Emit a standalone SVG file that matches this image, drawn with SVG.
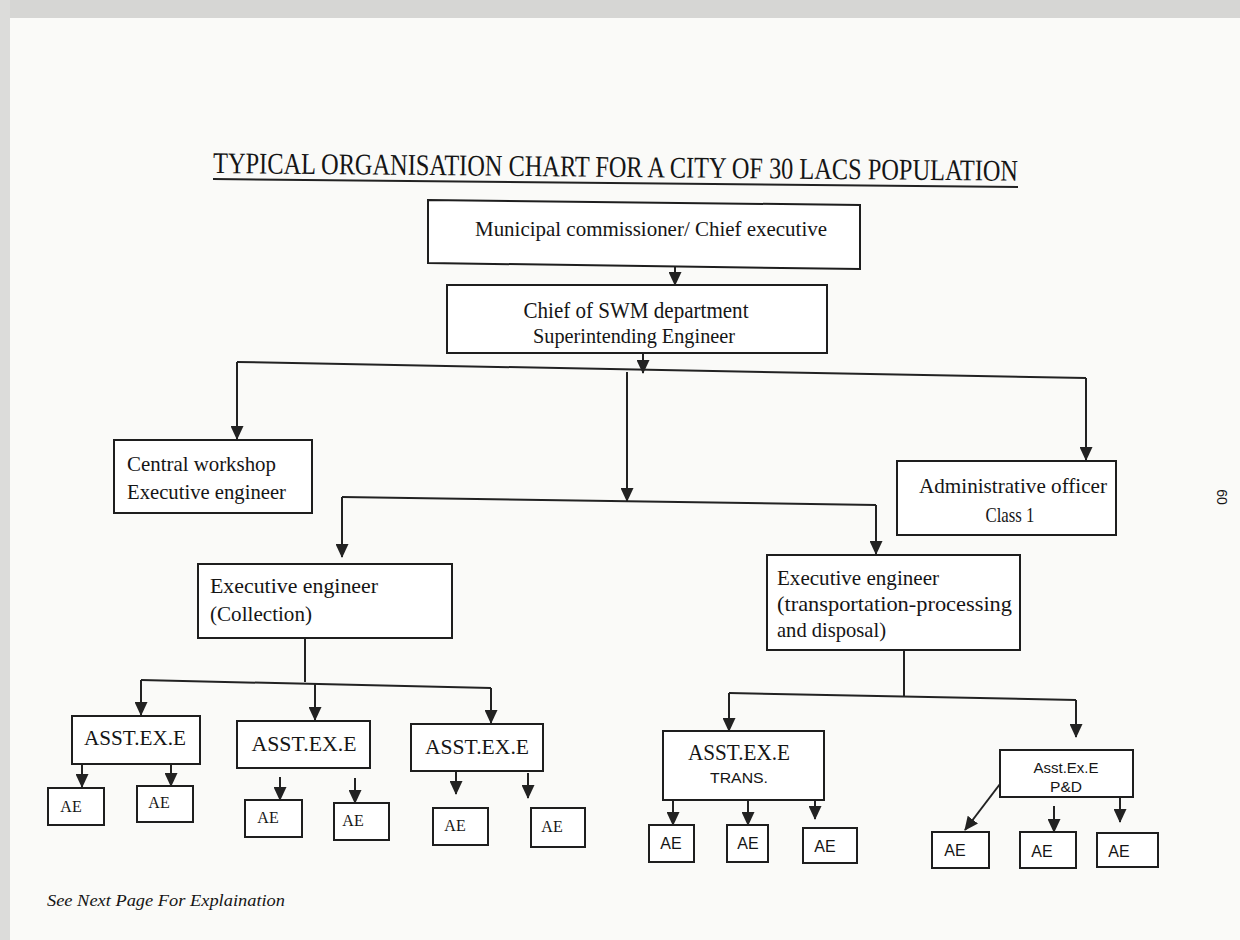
<svg xmlns="http://www.w3.org/2000/svg" width="1240" height="940" viewBox="0 0 1240 940">
<defs>
<marker id="ah" viewBox="0 0 14 13" refX="13" refY="6.5" markerWidth="14" markerHeight="13" markerUnits="userSpaceOnUse" orient="auto">
<path d="M0,0 L14,6.5 L0,13 z" fill="#222"/>
</marker>
<style>
.bx{fill:#fff;stroke:#1e1e1e;stroke-width:2}
.ln{fill:none;stroke:#222;stroke-width:2}
.ar{fill:none;stroke:#222;stroke-width:2;marker-end:url(#ah)}
.t{font-family:"Liberation Serif","Times New Roman",serif;fill:#151515}
.s{font-family:"Liberation Sans",Arial,sans-serif;fill:#151515}
</style>
</defs>
<rect width="1240" height="940" fill="#fafaf8"/>
<rect x="0" y="0" width="1240" height="18" fill="#d6d6d4"/>
<rect x="0" y="0" width="10" height="940" fill="#dcdcda"/>

<g id="title">
<text class="t" x="213" y="173" font-size="30" textLength="805" lengthAdjust="spacingAndGlyphs" transform="rotate(0.55 213 173)">TYPICAL ORGANISATION CHART FOR A CITY OF 30 LACS POPULATION</text>
<line class="ln" x1="213" y1="179" x2="1018" y2="187" stroke-width="1.8"/>
</g>

<g id="connectors">
<path class="ar" d="M675,267 V285"/>
<path class="ln" d="M237,362 L1086,378"/>
<path class="ar" d="M643,353 V373"/>
<path class="ar" d="M237,362 V439"/>
<path class="ar" d="M1086,378 V460"/>
<path class="ar" d="M627,372 V501"/>
<path class="ln" d="M342,497 L876,505"/>
<path class="ar" d="M342,497 V557"/>
<path class="ar" d="M876,505 V554"/>
<path class="ln" d="M305,638 V682"/>
<path class="ln" d="M141,680 L491,688"/>
<path class="ar" d="M141,680 V715"/>
<path class="ar" d="M315,684 V720"/>
<path class="ar" d="M491,688 V723"/>
<path class="ar" d="M82,764 V787"/>
<path class="ar" d="M171,765 V786"/>
<path class="ar" d="M280,777 V800"/>
<path class="ar" d="M355,778 V803"/>
<path class="ar" d="M456,771 V794"/>
<path class="ar" d="M528,773 V798"/>
<path class="ln" d="M904,650 V697"/>
<path class="ln" d="M729,693 L1076,700"/>
<path class="ar" d="M729,693 V731"/>
<path class="ar" d="M1076,700 V737"/>
<path class="ar" d="M673,800 V825"/>
<path class="ar" d="M748,800 V825"/>
<path class="ar" d="M815,800 V819"/>
<path class="ar" d="M1000,784 L965,830"/>
<path class="ar" d="M1054,806 V832"/>
<path class="ar" d="M1120,797 V822"/>
</g>

<g id="n-commissioner">
<path class="bx" d="M428,200 L860,205 L860,269 L428,263 Z"/>
<text class="t" x="651" y="236" font-size="21" text-anchor="middle" textLength="352" lengthAdjust="spacingAndGlyphs">Municipal commissioner/ Chief executive</text>
</g>
<g id="n-swm">
<rect class="bx" x="447" y="285" width="380" height="68"/>
<text class="t" x="636" y="318" font-size="23" text-anchor="middle" textLength="225" lengthAdjust="spacingAndGlyphs">Chief of SWM department</text>
<text class="t" x="634" y="343" font-size="20" text-anchor="middle" textLength="202" lengthAdjust="spacingAndGlyphs">Superintending Engineer</text>
</g>
<g id="n-workshop">
<rect class="bx" x="114" y="440" width="198" height="73"/>
<text class="t" x="127" y="471" font-size="22" textLength="149" lengthAdjust="spacingAndGlyphs">Central workshop</text>
<text class="t" x="127" y="499" font-size="22" textLength="159" lengthAdjust="spacingAndGlyphs">Executive engineer</text>
</g>
<g id="n-admin">
<rect class="bx" x="897" y="461" width="219" height="74"/>
<text class="t" x="1013" y="493" font-size="21" text-anchor="middle" textLength="188" lengthAdjust="spacingAndGlyphs">Administrative officer</text>
<text class="t" x="1010" y="522" font-size="21" text-anchor="middle" textLength="49" lengthAdjust="spacingAndGlyphs">Class 1</text>
</g>
<g id="n-collection">
<rect class="bx" x="198" y="564" width="254" height="74"/>
<text class="t" x="210" y="593" font-size="22" textLength="168" lengthAdjust="spacingAndGlyphs">Executive engineer</text>
<text class="t" x="210" y="621" font-size="22" textLength="102" lengthAdjust="spacingAndGlyphs">(Collection)</text>
</g>
<g id="n-transport">
<rect class="bx" x="767" y="555" width="253" height="95"/>
<text class="t" x="777" y="585" font-size="21" textLength="162" lengthAdjust="spacingAndGlyphs">Executive engineer</text>
<text class="t" x="777" y="611" font-size="21" textLength="235" lengthAdjust="spacingAndGlyphs">(transportation-processing</text>
<text class="t" x="777" y="637" font-size="21" textLength="109" lengthAdjust="spacingAndGlyphs">and disposal)</text>
</g>

<g id="n-asst1">
<rect class="bx" x="72" y="716" width="128" height="48"/>
<text class="t" x="135" y="745" font-size="22" text-anchor="middle" textLength="102" lengthAdjust="spacingAndGlyphs">ASST.EX.E</text>
</g>
<g id="n-asst2">
<rect class="bx" x="237" y="721" width="133" height="47"/>
<text class="t" x="304" y="751" font-size="22" text-anchor="middle" textLength="105" lengthAdjust="spacingAndGlyphs">ASST.EX.E</text>
</g>
<g id="n-asst3">
<rect class="bx" x="411" y="724" width="132" height="47"/>
<text class="t" x="477" y="754" font-size="22" text-anchor="middle" textLength="104" lengthAdjust="spacingAndGlyphs">ASST.EX.E</text>
</g>
<g id="n-asst-trans">
<rect class="bx" x="663" y="731" width="161" height="69"/>
<text class="t" x="739" y="760" font-size="24" text-anchor="middle" textLength="102" lengthAdjust="spacingAndGlyphs">ASST.EX.E</text>
<text class="s" x="739" y="783" font-size="15" text-anchor="middle" textLength="58" lengthAdjust="spacingAndGlyphs">TRANS.</text>
</g>
<g id="n-asst-pd">
<rect class="bx" x="1000" y="750" width="133" height="47"/>
<text class="s" x="1066" y="773" font-size="15" text-anchor="middle" textLength="65" lengthAdjust="spacingAndGlyphs">Asst.Ex.E</text>
<text class="s" x="1066" y="792" font-size="15" text-anchor="middle" textLength="32" lengthAdjust="spacingAndGlyphs">P&amp;D</text>
</g>

<g id="n-ae1"><rect class="bx" x="48" y="788" width="56" height="37"/><text class="t" x="71" y="812" font-size="16" text-anchor="middle">AE</text></g>
<g id="n-ae2"><rect class="bx" x="137" y="786" width="56" height="36"/><text class="t" x="159" y="808" font-size="16" text-anchor="middle">AE</text></g>
<g id="n-ae3"><rect class="bx" x="245" y="800" width="57" height="37"/><text class="t" x="268" y="823" font-size="16" text-anchor="middle">AE</text></g>
<g id="n-ae4"><rect class="bx" x="334" y="803" width="55" height="37"/><text class="t" x="353" y="826" font-size="16" text-anchor="middle">AE</text></g>
<g id="n-ae5"><rect class="bx" x="433" y="808" width="55" height="37"/><text class="t" x="455" y="831" font-size="16" text-anchor="middle">AE</text></g>
<g id="n-ae6"><rect class="bx" x="531" y="808" width="54" height="39"/><text class="t" x="552" y="832" font-size="16" text-anchor="middle">AE</text></g>
<g id="n-ae7"><rect class="bx" x="649" y="825" width="45" height="37"/><text class="s" x="671" y="849" font-size="16" text-anchor="middle">AE</text></g>
<g id="n-ae8"><rect class="bx" x="727" y="825" width="41" height="37"/><text class="s" x="748" y="849" font-size="16" text-anchor="middle">AE</text></g>
<g id="n-ae9"><rect class="bx" x="803" y="828" width="54" height="35"/><text class="s" x="825" y="852" font-size="16" text-anchor="middle">AE</text></g>
<g id="n-ae10"><rect class="bx" x="932" y="832" width="57" height="36"/><text class="s" x="955" y="856" font-size="16" text-anchor="middle">AE</text></g>
<g id="n-ae11"><rect class="bx" x="1020" y="832" width="56" height="36"/><text class="s" x="1042" y="857" font-size="16" text-anchor="middle">AE</text></g>
<g id="n-ae12"><rect class="bx" x="1097" y="833" width="61" height="34"/><text class="s" x="1119" y="857" font-size="16" text-anchor="middle">AE</text></g>

<g id="footer">
<text class="t" x="47" y="906" font-size="17" font-style="italic" textLength="238" lengthAdjust="spacingAndGlyphs">See Next Page For Explaination</text>
<text class="s" x="1217" y="497" font-size="14" text-anchor="middle" transform="rotate(90 1217 497)" fill="#333">60</text>
</g>
</svg>
